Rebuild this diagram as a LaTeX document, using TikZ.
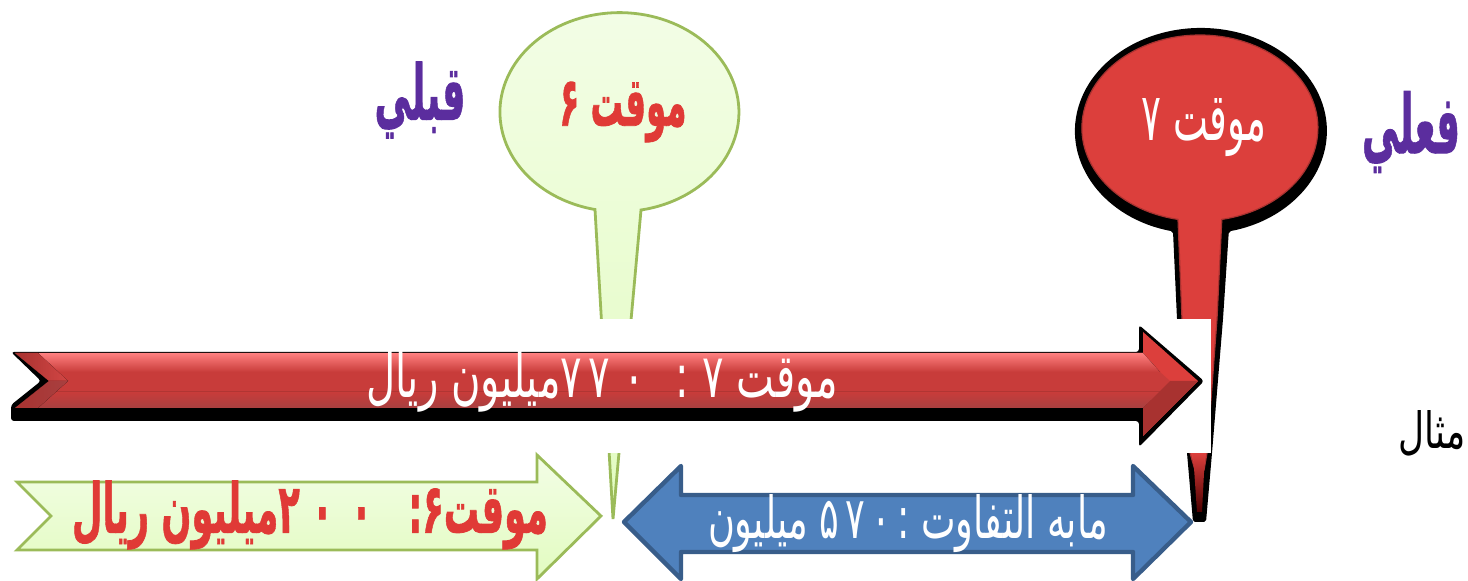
\documentclass[tikz,border=0pt]{standalone}
\usepackage{fontspec}
\usepackage{graphicx}
\TeXXeTstate=1
\newfontfamily\arb[Script=Arabic]{DejaVu Sans}
\newfontfamily\arbb[Script=Arabic,FakeBold=1.2]{DejaVu Sans Bold}
\definecolor{gfillA}{HTML}{F3FDE6}
\definecolor{gfillB}{HTML}{E2FCC0}
\definecolor{gline}{HTML}{9BBB59}
\definecolor{bfill}{HTML}{4F81BD}
\definecolor{bline}{HTML}{385D8A}
\definecolor{redA}{HTML}{DC3F3C}
\definecolor{redB}{HTML}{C83C3A}
\definecolor{redC}{HTML}{FF8080}
\definecolor{redD}{HTML}{A84040}
\definecolor{redE}{HTML}{A83230}
\definecolor{redF}{HTML}{D24644}
\definecolor{redT}{HTML}{E03A36}
\definecolor{purp}{HTML}{5B2D9E}
\newlength{\pxu}\setlength{\pxu}{0.5pt}
\newcommand{\fitbox}[3]{\resizebox{#1\pxu}{#2\pxu}{#3}}
\tikzset{
  txt/.style={inner sep=0pt,outer sep=0pt,anchor=center},
  greenshape/.style={draw=gline,line width=1.4pt,line join=miter,top color=gfillA,bottom color=gfillB},
  blueshape/.style={draw=bline,line width=2.2pt,line join=round,fill=bfill},
}
\begin{document}
\begin{tikzpicture}[x=0.5pt,y=-0.5pt]
\useasboundingbox (0,0) rectangle (1468,581);
\clip (0,0) rectangle (1468,581);
% green balloon
\path[greenshape] (613,519) -- (641,210) arc[start angle=79.6,end angle=-258.2,x radius=119.5,y radius=99.5] -- cycle;
% red balloon
\fill[black,line join=round,rounded corners=1pt] (1193,522) -- (1187,453) -- (1177,319) -- (1173,231.4)
   arc[start angle=102.8,end angle=437.2,x radius=126,y radius=103]
   -- (1223,319) -- (1212,453) -- (1206,522) -- cycle;
\path[fill=redA,draw=redE,line width=0.6pt] (1195,470) -- (1190,453) -- (1182,319) -- (1178,219.4)
   arc[start angle=100.7,end angle=439.3,x radius=118,y radius=93]
   -- (1217,319) -- (1207,453) -- (1204,470) -- cycle;
\shade[top color=redA,bottom color=black!70!red] (1193,453) -- (1205,453) -- (1202,512) -- (1197,512) -- cycle;
% white mask
\fill[white] (0,319) rectangle (1211,453);
% red arrow
\fill[black,line join=round,rounded corners=1.5pt] (11,352) -- (1139,352) -- (1139,325) -- (1204,381) -- (1139,447) -- (1139,421) -- (11,421) -- (11,405) -- (41,381) -- cycle;
\begin{scope}
\clip (15,353) -- (1143,353) -- (1143,332) -- (1198,381) -- (1143,436) -- (1143,408) -- (15,408) -- (49,381) -- cycle;
\fill[redA] (1100,320) rectangle (1210,450);
\fill[top color=redC,bottom color=redB] (0,353) -- (1143,353) -- (1160,372) -- (0,372) -- cycle;
\fill[redB] (0,372) -- (1160,372) -- (1170,381) -- (1160,392) -- (0,392) -- cycle;
\fill[top color=redB,bottom color=redD] (0,392) -- (1160,392) -- (1143,408) -- (0,408) -- cycle;
\fill[redE] (1143,436) -- (1198,381) -- (1170,381) -- (1143,408) -- cycle;
\fill[left color=redE,right color=redF] (15,353) -- (49,381) -- (68,381) -- (38,353) -- cycle;
\fill[left color=redE,right color=redD] (15,408) -- (49,381) -- (68,381) -- (38,408) -- cycle;
\end{scope}
% green arrow
\path[greenshape] (17,482) -- (537,482) -- (537,455) -- (601,516) -- (537,579) -- (537,550) -- (17,550) -- (51,516) -- cycle;
% blue double arrow
\path[blueshape] (624,522) -- (681,466) -- (681,495) -- (1133,495) -- (1133,466) -- (1191,522) -- (1133,579) -- (1133,552) -- (681,552) -- (681,579) -- cycle;
% texts
\node[txt,text=purp] (before) at (420,100) {\fitbox{91}{58}{\arbb\beginR قبلي\endR}};
\node[txt,text=redT] (t6) at (623,112) {\fitbox{127}{44}{\arbb\beginR موقت ۶\endR}};
\node[txt,text=white] (t7) at (1204,128) {\fitbox{125}{42}{\arb\beginR موقت ۷\endR}};
\node[txt,text=purp] (actual) at (1411,132) {\fitbox{98}{62}{\arbb\beginR فعلي\endR}};
\node[txt,text=black] (example) at (1432,433) {\fitbox{67}{38}{\arb\beginR مثال\endR}};
\node[txt,text=white] (redlabel) at (602,382) {\fitbox{471}{46}{\arb\beginR موقت ۷ : \beginL ۷\,۷\,\,۰\,\,\endL میلیون ریال\endR}};
\node[txt,text=redT] (greenlabel) at (310,515) {\fitbox{476}{52}{\arbb\beginR موقت۶:\ \ \beginL ۲\,\,۰\,\,\,۰\,\,\endL میلیون ریال\endR}};
\node[txt,text=white] (bluelabel) at (908,524) {\fitbox{400}{44}{\arb\beginR مابه التفاوت :\beginL ۵\,۷\,۰\,\endL{} میلیون\endR}};
\end{tikzpicture}
\end{document}
